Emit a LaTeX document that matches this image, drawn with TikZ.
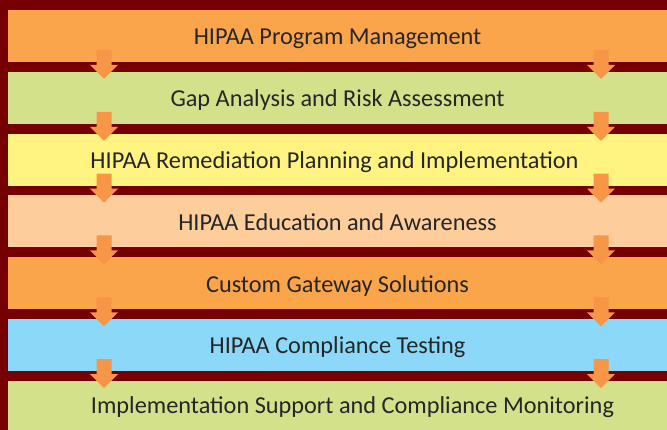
\documentclass[tikz,border=0pt]{standalone}
\usepackage{fontspec}
\setmainfont{Carlito}
\usepackage{xcolor}
\usepackage{tikz}
\usetikzlibrary{calc}

\definecolor{bgred}{HTML}{760000}
\definecolor{bandorange}{HTML}{FAA54B}
\definecolor{bandgreen}{HTML}{D3E18A}
\definecolor{bandyellow}{HTML}{FFF482}
\definecolor{bandpeach}{HTML}{FDCE9C}
\definecolor{bandblue}{HTML}{8BD8F8}
\definecolor{flowarrow}{HTML}{F79646}
\definecolor{labgray}{HTML}{262626}

\begin{document}
\begin{tikzpicture}[
  x=1pt, y=-1pt,
  band/.style={anchor=north west, minimum width=659pt, minimum height=52pt, inner sep=0pt, outer sep=0pt},
  lab/.style={anchor=base, font=\fontsize{24.3}{27}\selectfont, text=labgray, inner sep=0pt},
  flow/.style={fill=flowarrow}
]
\useasboundingbox (0,0) rectangle (667,430);
\clip (0,0) rectangle (667,430);
\fill[bgred] (0,0) rectangle (667,430);
% the seven stages
\foreach \i/\c/\dx/\dy/\t in {1/bandorange/0/35/HIPAA Program Management,
    2/bandgreen/0/35/Gap Analysis and Risk Assessment,
    3/bandyellow/-3/35/HIPAA Remediation Planning and Implementation,
    4/bandpeach/0/35/HIPAA Education and Awareness,
    5/bandorange/0/35/Custom Gateway Solutions,
    6/bandblue/0/34/HIPAA Compliance Testing,
    7/bandgreen/15/33/Implementation Support and Compliance Monitoring} {
  \node[band, fill=\c] (b\i) at (8, {10+61.83*(\i-1)}) {};
  \node[lab] (t\i) at ($(b\i.north)+(\dx,\dy)$) {\t};
}
% down arrows between the stages
\foreach \i in {1,...,6} {
  \foreach \x in {96,593} {
    \fill[flow, shift={($(b\i.south west)+(\x,0)$)}]
      (-7.5,-12) -- (7.5,-12) -- (7.5,3) -- (14,3) -- (0,17) -- (-14,3) -- (-7.5,3) -- cycle;
  }
}
\end{tikzpicture}
\end{document}
